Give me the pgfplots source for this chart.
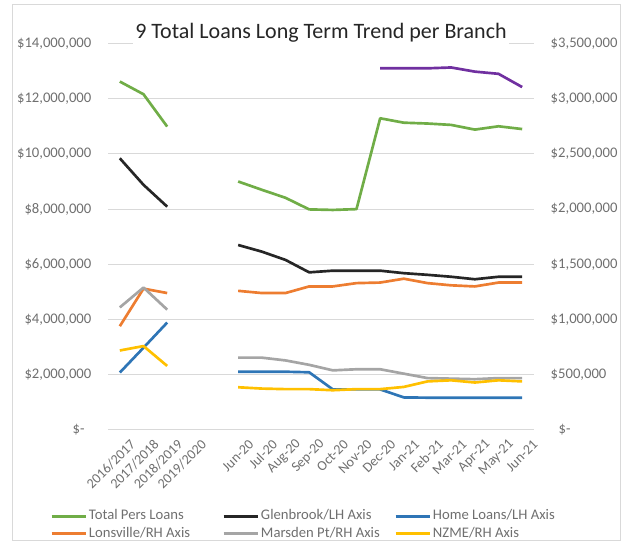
\documentclass[border=0pt]{standalone}
\usepackage{pgfplots}
\pgfplotsset{compat=1.18}
\usepackage{fontspec}
\setmainfont{Carlito}
\definecolor{cgreen}{HTML}{70AD47}
\definecolor{cblack}{HTML}{262626}
\definecolor{cblue}{HTML}{2E75B6}
\definecolor{corange}{HTML}{ED7D31}
\definecolor{cgray}{HTML}{A5A5A5}
\definecolor{cyellow}{HTML}{FFC000}
\definecolor{cpurple}{HTML}{7030A0}
\definecolor{gridc}{HTML}{D9D9D9}
\definecolor{txtc}{HTML}{6F6F6F}
\definecolor{framec}{HTML}{D9D9D9}
\pgfplotsset{
  base/.style={
    at={(81pt,84pt)}, anchor=south west,
    scale only axis, width=319.5pt, height=289.9pt,
    xmin=-0.5, xmax=17.5,
    axis line style={draw=none},
    major tick length=0pt,
    scaled y ticks=false,
    tick label style={font=\fontsize{11}{13}\selectfont, text=txtc},
    unbounded coords=jump,
  },
}
\begin{document}
\begin{tikzpicture}
\useasboundingbox (0,0) rectangle (468.75pt,406.5pt);
\draw[framec, line width=0.6pt] (9pt,1pt) rectangle (465pt,403pt);
\begin{axis}[base,
  axis y line*=left, axis x line*=bottom,
  ymin=0, ymax=14000000,
  ytick={0,2000000,4000000,6000000,8000000,10000000,12000000,14000000},
  yticklabels={\$-\kern5pt,{\$2,000,000},{\$4,000,000},{\$6,000,000},{\$8,000,000},{\$10,000,000},{\$12,000,000},{\$14,000,000}},
  yticklabel style={anchor=east, xshift=-9pt},
  ymajorgrids, grid style={gridc, line width=0.75pt},
  xtick={0,...,17},
  xticklabels={2016/2017,2017/2018,2018/2019,2019/2020,,Jun-20,Jul-20,Aug-20,Sep-20,Oct-20,Nov-20,Dec-20,Jan-21,Feb-21,Mar-21,Apr-21,May-21,Jun-21},
  xticklabel style={rotate=45, anchor=east, inner sep=0pt, xshift=0.5pt, yshift=-13.5pt,
    font=\fontsize{10.5}{12}\selectfont},
  title={9 Total Loans Long Term Trend per Branch},
  every axis title shift=0pt,
  title style={at={(0.5,1)}, anchor=center, yshift=8pt, fill=white, inner sep=2pt,
    font=\fontsize{16.5}{19}\selectfont, text=black!85},
  every axis plot/.append style={line width=2pt, line join=round},
]
\addplot[cgreen] coordinates {(0,12620000) (1,12160000) (2,10990000) (4,nan) (5,9000000) (6,8700000) (7,8410000) (8,7990000) (9,7970000) (10,8000000) (11,11290000) (12,11130000) (13,11100000) (14,11050000) (15,10880000) (16,11000000) (17,10900000)};
\addplot[cblack] coordinates {(0,9840000) (1,8880000) (2,8090000) (4,nan) (5,6700000) (6,6460000) (7,6160000) (8,5710000) (9,5770000) (10,5770000) (11,5770000) (12,5680000) (13,5620000) (14,5550000) (15,5460000) (16,5550000) (17,5550000)};
\addplot[cblue] coordinates {(0,2080000) (1,2980000) (2,3890000) (4,nan) (5,2110000) (6,2110000) (7,2110000) (8,2090000) (9,1470000) (10,1470000) (11,1470000) (12,1180000) (13,1170000) (14,1170000) (15,1170000) (16,1170000) (17,1170000)};
\addplot[cpurple, forget plot] coordinates {(11,13100000) (12,13100000) (13,13100000) (14,13130000) (15,12980000) (16,12900000) (17,12420000)};
\end{axis}
\begin{axis}[base,
  axis y line*=right, axis x line=none,
  ymin=0, ymax=3500000,
  ytick={0,500000,1000000,1500000,2000000,2500000,3000000,3500000},
  yticklabels={\kern6pt\$-,{\$500,000},{\$1,000,000},{\$1,500,000},{\$2,000,000},{\$2,500,000},{\$3,000,000},{\$3,500,000}},
  yticklabel style={anchor=west, xshift=9pt},
  every axis plot/.append style={line width=2pt, line join=round},
  legend columns=3,
  legend cell align=left,
  legend image code/.code={\draw[#1] (0pt,0pt) -- (26pt,0pt);},
  legend style={at={(-0.136,-0.200)}, anchor=north west, draw=none, fill=none,
    inner sep=0pt, font=\fontsize{11}{13}\selectfont, text=txtc,
    nodes={inner xsep=1pt, inner ysep=1.8pt, text height=7.5pt, text depth=2pt},
    /tikz/every even column/.append style={column sep=0pt}},
]
\addlegendimage{cgreen, line width=2pt}
\addlegendentry{\makebox[99pt][l]{Total Pers Loans}}
\addlegendimage{cblack, line width=2pt}
\addlegendentry{\makebox[99pt][l]{Glenbrook/LH Axis}}
\addlegendimage{cblue, line width=2pt}
\addlegendentry{\makebox[99pt][l]{Home Loans/LH Axis}}
\addplot[corange] coordinates {(0,940000) (1,1280000) (2,1240000) (4,nan) (5,1260000) (6,1240000) (7,1240000) (8,1300000) (9,1300000) (10,1330000) (11,1335000) (12,1370000) (13,1330000) (14,1310000) (15,1300000) (16,1335000) (17,1335000)};
\addlegendentry{\makebox[99pt][l]{Lonsville/RH Axis}}
\addplot[cgray] coordinates {(0,1110000) (1,1290000) (2,1090000) (4,nan) (5,655000) (6,655000) (7,630000) (8,590000) (9,540000) (10,550000) (11,550000) (12,510000) (13,470000) (14,465000) (15,460000) (16,470000) (17,470000)};
\addlegendentry{\makebox[99pt][l]{Marsden Pt/RH Axis}}
\addplot[cyellow] coordinates {(0,720000) (1,760000) (2,580000) (4,nan) (5,387000) (6,375000) (7,370000) (8,370000) (9,360000) (10,370000) (11,370000) (12,390000) (13,440000) (14,450000) (15,430000) (16,450000) (17,440000)};
\addlegendentry{\makebox[99pt][l]{NZME/RH Axis}}
\end{axis}
\end{tikzpicture}
\end{document}
